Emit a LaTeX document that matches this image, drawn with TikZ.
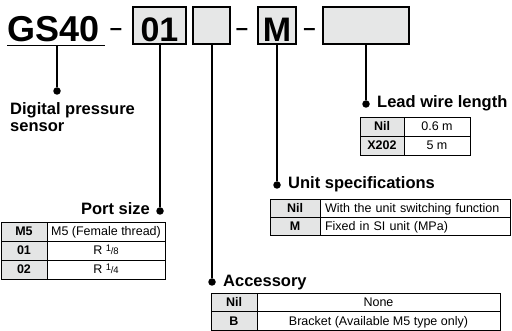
\documentclass[tikz,border=0pt]{standalone}
\usepackage{fontspec}
\setmainfont{Liberation Sans}
\usetikzlibrary{positioning}
\definecolor{boxgray}{RGB}{230,231,231}
\definecolor{cellgray}{RGB}{228,229,229}
\newcommand{\pipefrac}[2]{{\fontsize{9.5}{9.5}\selectfont\raisebox{3pt}{#1}\kern-0.3pt/\kern-0.3pt#2}}

\begin{document}
\begin{tikzpicture}[x=1pt, y=-1pt,
    codebox/.style={draw, line width=1.3pt, fill=boxgray, inner sep=0pt, outer sep=0pt,
        minimum height=37pt, text height=32pt, text depth=0pt,
        font=\fontsize{34}{34}\selectfont\bfseries},
    dashmark/.style={inner sep=0pt, anchor=base, font=\fontsize{22}{22}\selectfont\bfseries},
    lbl/.style={inner sep=0pt, font=\fontsize{16.5}{17}\selectfont\bfseries},
    callout/.style={line width=1.3pt},
    dotmark/.style={circle, fill, inner sep=0pt, minimum size=7.5pt},
    keycell/.style={draw, line width=0.8pt, fill=cellgray, inner sep=0pt, outer sep=0pt,
        minimum height=#1, text height=10pt, text depth=1pt,
        font=\fontsize{12.5}{13}\selectfont\bfseries},
    keycell/.default=19pt,
    valcell/.style={draw, line width=0.8pt, inner sep=0pt, outer sep=0pt,
        minimum height=#1, text height=10pt, text depth=1pt,
        font=\fontsize{12.5}{13}\selectfont},
    valcell/.default=19pt]
    \useasboundingbox (0,0) rectangle (512,331);

    % model code
    \node[inner sep=0pt, anchor=base west, font=\fontsize{36}{36}\selectfont\bfseries] (model) at (7,42) {GS40};
    \draw[line width=1.4pt] ([yshift=-3pt]model.south west) -- ++(98,0);
    \node[dashmark] (dash1) at (116,35.5) {–};
    \node[codebox, minimum width=53pt] (portbox) at (159.5,25.5) {01};
    \node[codebox, minimum width=37pt] (accbox) at (211.5,25.5) {};
    \node[dashmark] (dash2) at (242,35.5) {–};
    \node[codebox, minimum width=38pt] (unitbox) at (277,25.5) {M};
    \node[dashmark] (dash3) at (309.5,35.5) {–};
    \node[codebox, minimum width=86pt] (leadbox) at (366,25.5) {};

    % dots and labels
    \node[dotmark] (modeldot) at (57,91) {};
    \node[dotmark] (portdot) at (160,211) {};
    \node[dotmark] (accdot) at (212,282) {};
    \node[dotmark] (unitdot) at (277,185) {};
    \node[dotmark] (leaddot) at (366,104) {};
    \node[lbl, anchor=north west, align=left] (modellbl) at (10,102.5) {Digital pressure\\sensor};
    \node[lbl, anchor=base east] (portlbl) at (150,215) {Port size};
    \node[lbl, anchor=base west] (acclbl) at (223,287) {Accessory};
    \node[lbl, anchor=base west] (unitlbl) at (288,189) {Unit specifications};
    \node[lbl, anchor=base west] (leadlbl) at (377,108) {Lead wire length};

    \draw[callout] ([yshift=-3pt]model.south -| modeldot) -- (modeldot);
    \draw[callout] (portbox.south -| portdot) -- (portdot);
    \draw[callout] (accbox.south -| accdot) -- (accdot);
    \draw[callout] (unitbox.south -| unitdot) -- (unitdot);
    \draw[callout] (leadbox.south -| leaddot) -- (leaddot);

    % port size
    \node[keycell, minimum width=46pt, anchor=north west] (pk1) at (1,222) {M5};
    \node[valcell, minimum width=118pt, right=0pt of pk1] (pv1) {M5 (Female thread)};
    \node[keycell, minimum width=46pt, below=0pt of pk1] (pk2) {01};
    \node[valcell, minimum width=118pt, right=0pt of pk2] (pv2) {R \pipefrac{1}{8}};
    \node[keycell, minimum width=46pt, below=0pt of pk2] (pk3) {02};
    \node[valcell, minimum width=118pt, right=0pt of pk3] (pv3) {R \pipefrac{1}{4}};

    % accessory
    \node[keycell=18.5pt, minimum width=46pt, anchor=north west] (ak1) at (211,293) {Nil};
    \node[valcell=18.5pt, minimum width=243pt, right=0pt of ak1] (av1) {None};
    \node[keycell=18.5pt, minimum width=46pt, below=0pt of ak1] (ak2) {B};
    \node[valcell=18.5pt, minimum width=243pt, right=0pt of ak2] (av2) {Bracket (Available M5 type only)};

    % unit specifications
    \node[keycell=18pt, minimum width=50pt, anchor=north west] (uk1) at (270,199) {Nil};
    \node[valcell=18pt, text width=180pt, inner xsep=5pt, align=left, right=0pt of uk1] (uv1) {With the unit switching function};
    \node[keycell=18pt, minimum width=50pt, below=0pt of uk1] (uk2) {M};
    \node[valcell=18pt, text width=180pt, inner xsep=5pt, align=left, right=0pt of uk2] (uv2) {Fixed in SI unit (MPa)};

    % lead wire length
    \node[keycell, minimum width=44pt, anchor=north west] (lk1) at (360,117) {Nil};
    \node[valcell, minimum width=66pt, right=0pt of lk1] (lv1) {0.6 m};
    \node[keycell, minimum width=44pt, below=0pt of lk1] (lk2) {X202};
    \node[valcell, minimum width=66pt, right=0pt of lk2] (lv2) {5 m};
\end{tikzpicture}
\end{document}
